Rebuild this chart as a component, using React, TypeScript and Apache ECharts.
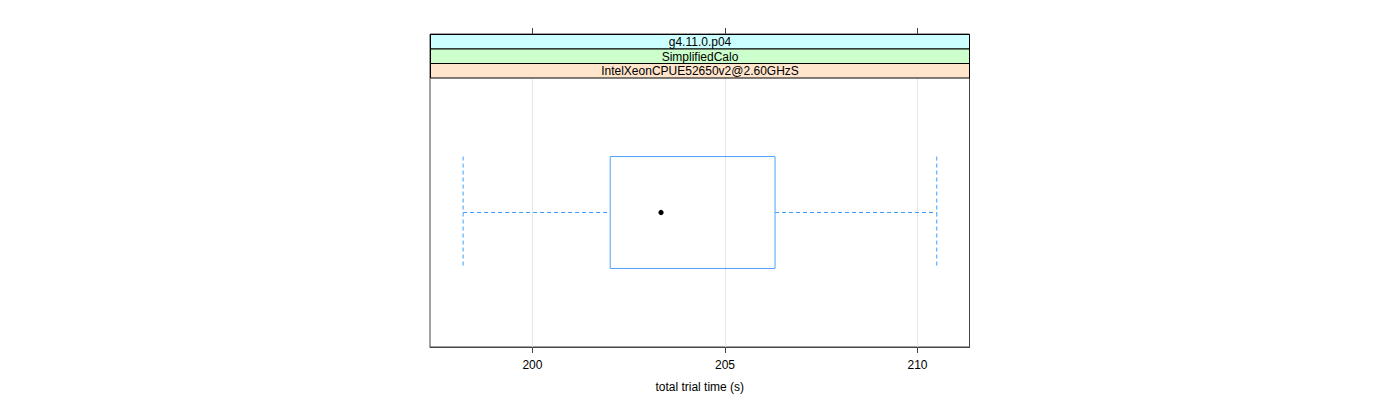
import React, { useEffect, useRef } from "react";
import * as echarts from "echarts";

const categories = ["IntelXeonCPUE52650v2@2.60GHzS"];
// min, Q1, median, Q3, max
const boxStats = [198.2, 202.02, 203.34, 206.3, 210.5];
const tickValues = [200, 205, 210];
const stripLabels = ["g4.11.0.p04", "SimplifiedCalo", "IntelXeonCPUE52650v2@2.60GHzS"];
const stripColors = ["#ccffff", "#ccffcc", "#ffe5cc"];
const xRange = [197.34, 211.35];
const xTitle = "total trial time (s)";

const FONT = "'Liberation Sans', Arial, Helvetica, sans-serif";

export default function App() {
  const ref = useRef<HTMLDivElement>(null);
  useEffect(() => {
    if (!ref.current) return;
    const chart = echarts.init(ref.current, undefined, { renderer: "svg" });
    const panelL = 430.5;
    const panelR = 969.5;
    const stripTop = 34.5;
    const stripH = 14.5;
    const graphics: any[] = [];
    stripLabels.forEach((lab, i) => {
      const y = stripTop + i * stripH;
      graphics.push({
        type: "rect",
        shape: { x: panelL, y, width: panelR - panelL, height: stripH },
        style: { fill: stripColors[i], stroke: "#000", lineWidth: 1 },
        z: 10,
      });
      graphics.push({
        type: "text",
        x: (panelL + panelR) / 2,
        y: y + stripH / 2 + 0.5,
        style: {
          text: lab,
          fill: "#000",
          font: `12px ${FONT}`,
          align: "center",
          verticalAlign: "middle",
        },
        z: 11,
      });
    });

    const option: any = {
      animation: false,
      backgroundColor: "#fff",
      textStyle: { fontFamily: FONT },
      graphic: graphics,
      grid: [
        { left: 430, right: 430.5, top: 78, bottom: 53, show: false },
        {
          left: 430,
          right: 430.5,
          top: 34,
          bottom: 53,
          show: true,
          borderColor: "#444",
          borderWidth: 1,
          backgroundColor: "transparent",
        },
      ],
      xAxis: [
        {
          type: "value",
          gridIndex: 0,
          min: xRange[0],
          max: xRange[1],
          position: "bottom",
          axisLine: { show: true, onZero: false, lineStyle: { color: "#444" } },
          axisTick: {
            show: true,
            length: 6,
            customValues: tickValues,
            lineStyle: { color: "#444" },
          },
          axisLabel: {
            show: true,
            customValues: tickValues,
            color: "#000",
            fontSize: 12,
            fontFamily: FONT,
            margin: 12,
          },
          splitLine: { show: true, lineStyle: { color: "#e6e6e6", width: 1 } },
          name: xTitle,
          nameLocation: "middle",
          nameGap: 34,
          nameTextStyle: { color: "#000", fontSize: 12, fontFamily: FONT },
        },
        {
          type: "value",
          gridIndex: 1,
          min: xRange[0],
          max: xRange[1],
          position: "top",
          axisLine: { show: false },
          axisTick: {
            show: true,
            length: 6,
            customValues: tickValues,
            lineStyle: { color: "#444" },
          },
          axisLabel: { show: false },
          splitLine: { show: false },
        },
      ],
      yAxis: [
        {
          type: "category",
          gridIndex: 0,
          data: categories,
          axisLine: { show: false },
          axisTick: { show: false },
          axisLabel: { show: false },
          splitLine: { show: false },
        },
        {
          type: "category",
          gridIndex: 1,
          data: categories,
          show: false,
        },
      ],
      series: [
        {
          type: "custom",
          xAxisIndex: 0,
          yAxisIndex: 0,
          encode: { y: 0, x: [1, 2, 3, 4, 5] },
          data: [[0, ...boxStats]],
          renderItem: (params: any, api: any) => {
            const cat = api.value(0);
            const vmin = api.coord([api.value(1), cat]);
            const q1 = api.coord([api.value(2), cat]);
            const med = api.coord([api.value(3), cat]);
            const q3 = api.coord([api.value(4), cat]);
            const vmax = api.coord([api.value(5), cat]);
            const band = api.size([0, 1])[1];
            const half = band * 0.208;
            const cy = med[1];
            const whiskerStyle = {
              stroke: "#3d9bff",
              lineWidth: 1,
              lineDash: [4, 3],
              fill: null,
            };
            return {
              type: "group",
              children: [
                {
                  type: "line",
                  shape: { x1: vmin[0], y1: cy, x2: q1[0], y2: cy },
                  style: whiskerStyle,
                },
                {
                  type: "line",
                  shape: { x1: q3[0], y1: cy, x2: vmax[0], y2: cy },
                  style: whiskerStyle,
                },
                {
                  type: "line",
                  shape: { x1: vmin[0], y1: cy - half, x2: vmin[0], y2: cy + half },
                  style: whiskerStyle,
                },
                {
                  type: "line",
                  shape: { x1: vmax[0], y1: cy - half, x2: vmax[0], y2: cy + half },
                  style: whiskerStyle,
                },
                {
                  type: "rect",
                  shape: { x: q1[0], y: cy - half, width: q3[0] - q1[0], height: 2 * half },
                  style: { stroke: "#4da0ff", lineWidth: 1, fill: "none" },
                },
                {
                  type: "circle",
                  shape: { cx: med[0], cy, r: 2.6 },
                  style: { fill: "#000", stroke: null },
                },
              ],
            };
          },
        },
      ],
    };
    chart.setOption(option);
    return () => chart.dispose();
  }, []);
  return (
    <div
      ref={ref}
      style={{ position: "fixed", left: 0, top: 0, width: 1400, height: 400 }}
    />
  );
}
